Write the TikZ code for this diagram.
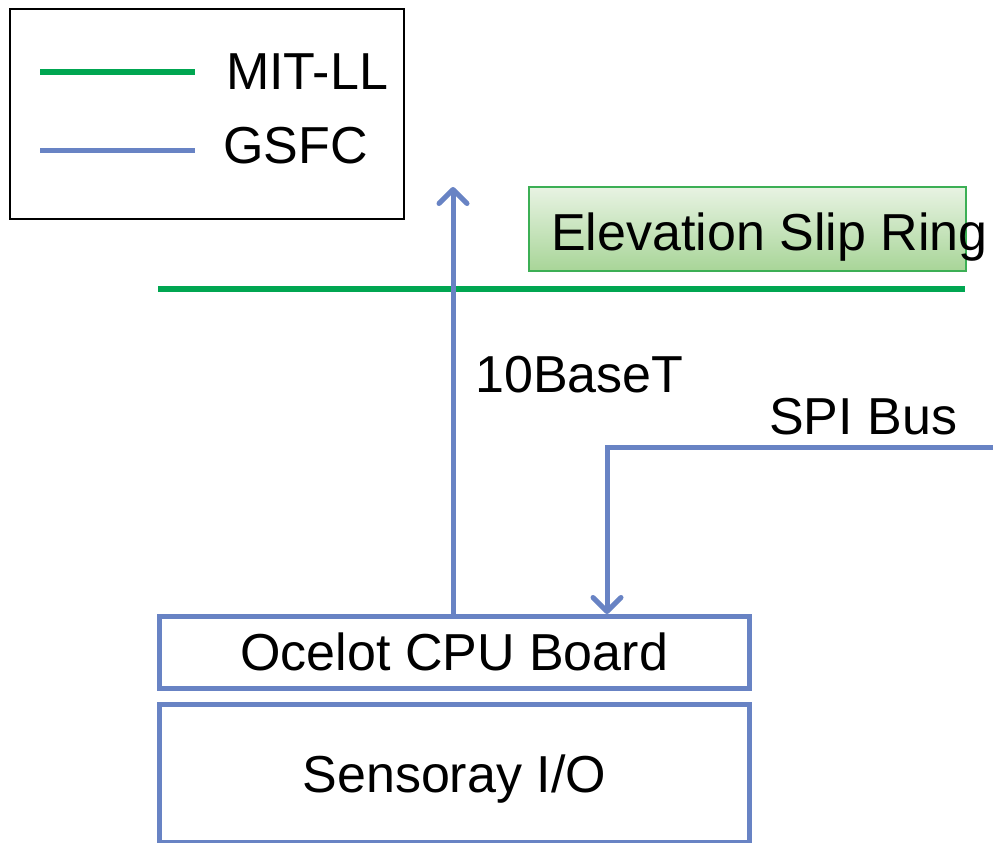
\documentclass[tikz,border=0pt]{standalone}
\usepackage{fontspec}
\setmainfont{Liberation Sans}
\usetikzlibrary{arrows.meta}
\definecolor{mitgreen}{RGB}{0,166,81}
\definecolor{gsfcblue}{RGB}{104,131,196}
\definecolor{boxgreen}{RGB}{60,175,85}
\definecolor{gradtop}{RGB}{232,243,227}
\definecolor{gradbot}{RGB}{168,213,152}
\begin{document}
\begin{tikzpicture}[x=1pt,y=-1pt,
  lbl/.style={font=\fontsize{52}{60}\selectfont, inner sep=0pt, anchor=base west},
  greenline/.style={draw=mitgreen, line width=6pt},
  blueline/.style={draw=gsfcblue, line width=5pt},
  bluebox/.style={draw=gsfcblue, line width=4.5pt, inner sep=0pt},
  barb/.style={-{Straight Barb[length=14pt,width=28pt,line width=5pt,round]}}
]
\useasboundingbox (0,0) rectangle (993,843);
\fill[white] (0,0) rectangle (993,843);

% legend
\node[draw=black, line width=2pt, minimum width=394pt, minimum height=210pt, inner sep=0pt, anchor=north west] (legend) at (9,8) {};
\coordinate (g1) at (40,72); \coordinate (g2) at (195,72);
\coordinate (b1) at (40,150); \coordinate (b2) at (195,150);
\draw[greenline] (g1) -- (g2);
\draw[blueline] (b1) -- (b2);
\node[lbl] (mitll) at (226,89) {MIT-LL};
\node[lbl] (gsfc) at (223,163) {GSFC};

% elevation slip ring
\node[draw=boxgreen, line width=1.5pt, top color=gradtop, bottom color=gradbot, minimum width=437pt, minimum height=84pt, inner sep=0pt, anchor=north west] (slip) at (528,186) {};
\node[lbl] (sliptext) at (551,250) {Elevation Slip Ring};

% green bus line
\coordinate (gl) at (158,289); \coordinate (gr) at (965,289);
\draw[greenline] (gl) -- (gr);

% boxes
\node[bluebox, minimum width=590pt, minimum height=72pt, anchor=north west] (cpu) at (157,614) {};
\node[lbl, anchor=base] (cputext) at (cpu.center |- 0,670) {Ocelot CPU Board};
\node[bluebox, minimum width=590pt, minimum height=138pt, anchor=north west] (io) at (157,702) {};
\node[lbl, anchor=base] (iotext) at (io.center |- 0,792) {Sensoray I/O};

% 10BaseT arrow
\coordinate (up) at (453,187);
\draw[blueline, barb] (cpu.north -| up) -- (up);
\node[lbl] (tenbase) at (475,392) {10BaseT};

% SPI bus
\coordinate (spiR) at (993,447);
\coordinate (spiC) at (607,447);
\node[lbl] (spitext) at (769,434) {SPI Bus};
\draw[blueline, barb] (spiR) -- (spiC) -- (cpu.north -| spiC);
\end{tikzpicture}
\end{document}
